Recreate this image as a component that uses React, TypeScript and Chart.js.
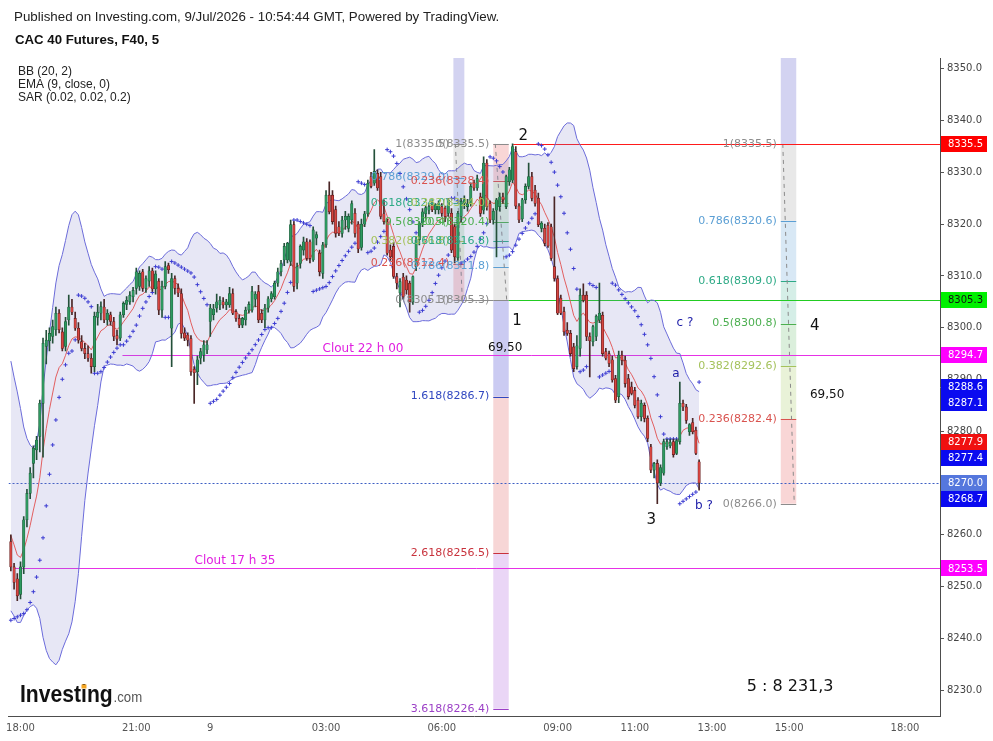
import React, { useEffect, useRef } from "react";
import { Chart, registerables } from "chart.js";
Chart.register(...registerables);

const W = 993;
const H = 741;
const SANS = '"Liberation Sans", Arial, sans-serif';
const DJ = '"DejaVu Sans", Verdana, sans-serif';

// ---- candle data (5 min bars, index 0 = 17:45) ----
const opens = [
  8258.7, 8253.8, 8251.5, 8248.5, 8253.8, 8262.9, 8268.0, 8273.8, 8276.4, 8279.0,
  8285.4, 8296.4, 8297.5, 8298.3, 8299.6, 8302.8, 8299.2, 8296.4, 8301.5, 8304.0,
  8301.8, 8299.9, 8297.3, 8296.0, 8295.0, 8294.1, 8292.5, 8302.0, 8302.8, 8304.0,
  8301.5, 8302.5, 8301.2, 8298.5, 8298.0, 8302.5, 8304.5, 8305.0, 8306.0, 8307.6,
  8308.0, 8310.8, 8307.6, 8309.0, 8311.0, 8307.5, 8309.0, 8303.4, 8308.0, 8312.0,
  8299.9, 8309.5, 8307.6, 8306.6, 8299.0, 8298.6, 8297.9, 8292.0, 8291.5, 8294.1,
  8294.7, 8295.7, 8301.2, 8302.5, 8303.8, 8304.4, 8305.0, 8304.4, 8304.4, 8306.6,
  8303.1, 8301.8, 8300.5, 8301.5, 8303.4, 8303.4, 8305.5, 8307.0, 8302.8, 8301.5,
  8303.8, 8305.6, 8306.0, 8308.6, 8310.8, 8313.1, 8313.1, 8312.8, 8319.9, 8308.6,
  8312.4, 8315.0, 8316.6, 8316.6, 8313.1, 8317.3, 8314.4, 8310.5, 8316.0, 8325.6,
  8325.6, 8322.8, 8319.5, 8318.2, 8320.8, 8319.2, 8320.8, 8322.1, 8320.0, 8315.5,
  8320.0, 8322.0, 8329.2, 8327.9, 8329.8, 8329.2, 8322.0, 8320.5, 8315.0, 8315.7,
  8309.9, 8306.7, 8309.8, 8309.2, 8308.6, 8305.0, 8311.8, 8317.0, 8320.2, 8322.0,
  8322.7, 8323.8, 8322.8, 8322.8, 8323.4, 8323.1, 8322.1, 8322.1, 8319.5, 8313.5,
  8321.5, 8324.0, 8323.4, 8324.0, 8328.0, 8327.0, 8325.3, 8322.7, 8331.8, 8324.0,
  8320.8, 8322.7, 8323.4, 8325.3, 8323.4, 8328.2, 8328.5, 8334.0, 8323.5, 8321.0,
  8324.7, 8327.3, 8329.2, 8326.6, 8325.0, 8319.2, 8319.2, 8319.8, 8319.5, 8311.8,
  8309.5, 8305.7, 8303.1, 8299.5, 8298.9, 8296.3, 8292.5, 8296.0, 8306.3, 8306.3,
  8298.3, 8297.3, 8298.3, 8301.5, 8302.4, 8295.4, 8295.0, 8293.8, 8290.2, 8286.7,
  8294.7, 8293.7, 8290.2, 8288.6, 8287.9, 8286.0, 8282.8, 8285.0, 8282.5, 8277.0,
  8272.5, 8273.8, 8270.0, 8271.9, 8277.0, 8277.2, 8278.0, 8275.7, 8278.0, 8285.4,
  8284.7, 8279.9, 8281.7, 8280.2, 8274.1,
];
const highs = [
  8260.0, 8254.5, 8252.5, 8254.8, 8263.5, 8268.8, 8273.0, 8277.2, 8279.0, 8286.0,
  8298.0, 8299.5, 8300.0, 8301.5, 8304.0, 8303.5, 8300.0, 8302.0, 8306.3, 8305.5,
  8303.0, 8301.0, 8298.5, 8297.0, 8296.5, 8295.0, 8303.0, 8304.5, 8305.0, 8305.5,
  8303.5, 8303.0, 8302.0, 8299.5, 8303.0, 8305.0, 8306.0, 8307.0, 8307.8, 8311.5,
  8311.0, 8311.3, 8310.0, 8311.8, 8311.5, 8311.0, 8309.5, 8309.0, 8312.8, 8312.5,
  8310.5, 8310.0, 8308.5, 8307.5, 8300.0, 8299.0, 8298.5, 8292.5, 8294.5, 8296.0,
  8297.5, 8297.5, 8304.5, 8304.5, 8306.5, 8306.0, 8305.8, 8305.5, 8307.8, 8307.5,
  8303.5, 8302.5, 8302.0, 8304.0, 8305.0, 8308.0, 8307.0, 8308.2, 8303.5, 8304.5,
  8306.0, 8307.0, 8309.0, 8311.5, 8313.0, 8316.3, 8316.5, 8320.8, 8320.5, 8312.5,
  8316.0, 8317.5, 8317.2, 8317.0, 8319.5, 8318.5, 8315.0, 8316.5, 8326.5, 8328.2,
  8326.5, 8323.5, 8320.5, 8321.5, 8322.5, 8322.0, 8324.5, 8323.0, 8320.5, 8321.0,
  8322.5, 8328.5, 8330.0, 8334.4, 8330.5, 8330.0, 8324.7, 8321.0, 8316.0, 8316.5,
  8310.5, 8309.5, 8310.5, 8310.0, 8309.0, 8310.0, 8317.5, 8320.5, 8323.0, 8323.5,
  8323.8, 8324.5, 8324.0, 8324.5, 8324.0, 8323.5, 8325.0, 8323.0, 8320.0, 8322.5,
  8325.0, 8325.5, 8324.8, 8328.0, 8328.5, 8329.5, 8326.0, 8333.0, 8332.5, 8324.5,
  8323.0, 8325.0, 8326.0, 8326.0, 8329.5, 8331.0, 8335.5, 8335.0, 8324.0, 8325.0,
  8327.8, 8331.8, 8330.0, 8327.5, 8326.0, 8320.5, 8320.0, 8320.3, 8320.0, 8325.3,
  8310.0, 8306.3, 8304.0, 8301.0, 8299.5, 8297.0, 8298.5, 8307.5, 8308.5, 8307.0,
  8299.0, 8300.5, 8302.5, 8308.6, 8303.0, 8296.0, 8295.5, 8294.5, 8290.8, 8295.5,
  8295.5, 8294.5, 8291.0, 8289.5, 8288.5, 8286.5, 8286.0, 8285.5, 8283.0, 8277.5,
  8274.0, 8274.5, 8273.5, 8278.5, 8278.5, 8278.5, 8278.5, 8278.5, 8289.5, 8286.0,
  8285.2, 8281.5, 8282.5, 8280.8, 8274.5,
];
const lows = [
  8253.0, 8249.5, 8247.3, 8247.6, 8252.5, 8261.5, 8267.0, 8271.0, 8274.5, 8276.0,
  8275.0, 8293.0, 8295.5, 8297.0, 8298.5, 8299.0, 8295.5, 8295.5, 8300.5, 8302.5,
  8299.5, 8297.0, 8295.5, 8294.0, 8293.5, 8291.2, 8291.5, 8300.5, 8301.5, 8301.0,
  8300.5, 8300.5, 8297.5, 8296.7, 8297.5, 8302.0, 8303.5, 8304.5, 8305.0, 8306.5,
  8307.2, 8307.0, 8306.8, 8308.0, 8307.0, 8306.5, 8302.5, 8302.0, 8307.5, 8310.5,
  8292.5, 8306.5, 8306.0, 8298.0, 8297.5, 8296.5, 8290.8, 8285.4, 8289.0, 8293.0,
  8293.5, 8295.0, 8298.3, 8301.5, 8303.0, 8303.5, 8303.8, 8303.5, 8303.9, 8302.5,
  8301.2, 8300.0, 8300.0, 8300.5, 8302.8, 8303.0, 8304.0, 8301.0, 8301.0, 8300.0,
  8303.0, 8305.0, 8305.5, 8308.0, 8310.0, 8312.0, 8312.5, 8312.0, 8307.0, 8307.5,
  8311.5, 8314.0, 8313.0, 8312.5, 8312.8, 8316.0, 8310.0, 8309.5, 8315.5, 8322.0,
  8320.0, 8317.5, 8317.8, 8317.5, 8319.0, 8318.5, 8320.0, 8317.5, 8314.5, 8315.0,
  8319.5, 8321.5, 8327.0, 8327.5, 8326.5, 8321.0, 8320.0, 8314.0, 8313.0, 8309.5,
  8307.5, 8304.0, 8305.5, 8306.5, 8303.0, 8304.5, 8311.0, 8316.0, 8319.5, 8321.0,
  8322.0, 8322.4, 8322.0, 8322.0, 8321.5, 8320.5, 8321.5, 8314.5, 8312.5, 8313.0,
  8320.5, 8323.0, 8322.5, 8323.5, 8326.5, 8326.5, 8321.5, 8322.0, 8322.7, 8320.3,
  8320.0, 8313.7, 8322.5, 8324.0, 8323.0, 8327.5, 8328.0, 8323.0, 8320.3, 8320.5,
  8324.0, 8326.8, 8324.5, 8323.5, 8319.5, 8318.5, 8315.8, 8315.5, 8313.0, 8309.0,
  8302.5, 8302.5, 8298.5, 8298.5, 8294.5, 8291.5, 8292.0, 8294.5, 8305.0, 8297.5,
  8290.5, 8296.5, 8297.5, 8301.0, 8294.5, 8293.8, 8292.5, 8289.5, 8285.5, 8285.5,
  8292.8, 8288.5, 8286.2, 8287.0, 8284.5, 8282.5, 8282.0, 8281.8, 8278.0, 8272.0,
  8271.0, 8266.0, 8269.5, 8271.5, 8276.5, 8276.8, 8275.0, 8275.5, 8277.5, 8284.0,
  8281.5, 8279.2, 8279.5, 8275.5, 8268.6,
];
const closes = [
  8253.8, 8250.8, 8248.2, 8253.8, 8262.9, 8268.0, 8271.9, 8276.7, 8278.3, 8285.4,
  8297.0, 8297.6, 8298.9, 8300.2, 8302.8, 8299.6, 8296.0, 8301.2, 8304.0, 8303.0,
  8299.9, 8297.6, 8296.0, 8295.0, 8294.1, 8292.5, 8302.2, 8303.0, 8304.1, 8301.5,
  8302.8, 8301.2, 8298.3, 8297.8, 8302.5, 8304.7, 8305.3, 8306.3, 8307.2, 8310.8,
  8310.5, 8307.6, 8309.5, 8311.0, 8307.5, 8310.4, 8303.4, 8308.0, 8311.8, 8311.2,
  8309.5, 8307.6, 8306.7, 8298.9, 8298.0, 8297.6, 8291.5, 8291.3, 8293.8, 8295.4,
  8296.7, 8296.7, 8303.8, 8303.6, 8305.0, 8305.3, 8304.4, 8305.0, 8306.6, 8302.8,
  8301.8, 8300.5, 8301.8, 8303.4, 8304.5, 8307.0, 8306.5, 8301.5, 8301.5, 8303.8,
  8305.6, 8306.6, 8308.6, 8310.8, 8312.4, 8315.7, 8316.3, 8319.9, 8308.0, 8311.8,
  8315.7, 8316.6, 8313.4, 8313.4, 8318.9, 8318.0, 8310.8, 8316.0, 8325.6, 8322.4,
  8320.5, 8318.2, 8318.2, 8320.8, 8321.5, 8321.5, 8324.0, 8318.2, 8315.2, 8320.0,
  8322.0, 8327.9, 8327.3, 8330.2, 8327.0, 8321.5, 8320.5, 8314.4, 8313.7, 8309.9,
  8308.6, 8308.9, 8306.0, 8307.3, 8305.0, 8309.9, 8317.0, 8320.2, 8322.4, 8323.2,
  8323.4, 8322.8, 8323.8, 8324.0, 8322.1, 8321.5, 8324.7, 8315.0, 8313.7, 8322.1,
  8324.4, 8324.7, 8324.0, 8327.3, 8327.0, 8328.8, 8322.1, 8331.8, 8323.4, 8320.8,
  8322.5, 8324.7, 8325.3, 8324.7, 8329.2, 8330.5, 8335.0, 8323.5, 8320.8, 8324.7,
  8327.3, 8329.2, 8325.0, 8324.0, 8319.9, 8320.2, 8316.3, 8315.8, 8313.4, 8309.5,
  8302.8, 8302.8, 8299.2, 8298.9, 8295.0, 8292.1, 8296.5, 8306.3, 8305.3, 8298.3,
  8297.5, 8300.2, 8302.2, 8302.8, 8295.0, 8294.1, 8293.1, 8289.9, 8286.0, 8294.7,
  8293.7, 8289.2, 8286.7, 8287.3, 8285.0, 8282.8, 8285.4, 8282.5, 8278.6, 8272.5,
  8273.8, 8270.0, 8273.0, 8278.0, 8278.0, 8277.9, 8275.5, 8278.2, 8285.4, 8284.7,
  8282.1, 8281.3, 8279.9, 8275.7, 8270.0,
];
// closes before the first visible bar, estimated from the band/EMA shape at the left edge
const priorCloses = [
  8290, 8292, 8289, 8286, 8285, 8280, 8278, 8279, 8273, 8270,
  8265, 8267, 8262, 8259, 8261, 8257, 8254, 8258, 8261, 8259,
];

// ---- axes ----
const xTickIndex = [3, 39, 62, 98, 134, 170, 194, 218, 242, 278];
const xTickLabels = ["18:00", "21:00", "9", "03:00", "06:00", "09:00", "11:00", "13:00", "15:00", "18:00"];
const yTickValues = [8230, 8240, 8250, 8260, 8270, 8280, 8290, 8300, 8310, 8320, 8330, 8340, 8350];
const X_MIN = -0.73;
const X_MAX = 288.9;
const Y_MIN = 8225;
const Y_MAX = 8352.1;

// ---- Fibonacci tools ----
const fibALevels = ["0", "0.236", "0.382", "0.5", "0.618", "0.786", "1"];
const fibAPrices = [8305.3, 8312.4, 8316.8, 8320.4, 8324.0, 8329.0, 8335.5];
const fibBLevels = ["0", "0.236", "0.382", "0.5", "0.618", "0.786", "1", "1.618", "2.618", "3.618"];
const fibBPrices = [8335.5, 8328.4, 8324.0, 8320.4, 8316.8, 8311.8, 8305.3, 8286.7, 8256.5, 8226.4];
const fibCLevels = ["0", "0.236", "0.382", "0.5", "0.618", "0.786", "1"];
const fibCPrices = [8266.0, 8282.4, 8292.6, 8300.8, 8309.0, 8320.6, 8335.5];

// ---- price lines & right-axis markers ----
const lineValues = [8335.5, 8305.3, 8294.7, 8253.5];
const markerValues = [8335.5, 8305.3, 8294.7, 8288.6, 8287.1, 8277.9, 8277.4, 8270.0, 8268.7, 8253.5];
const markerBg = ["#ff0000", "#00f000", "#ff00ff", "#0a0af0", "#0a0af0", "#f01010", "#0a0af0", "#5577dd", "#0a0af0", "#ff00ff"];
const markerFg = ["#ffffff", "#111111", "#ffffff", "#ffffff", "#ffffff", "#ffffff", "#ffffff", "#ffffff", "#ffffff", "#ffffff"];
const lastPrice = 8270.0;

const fibLevelColor: Record<string, string> = {
  "0": "#8c8c8c",
  "0.236": "#d9534f",
  "0.382": "#a5c25c",
  "0.5": "#4caf50",
  "0.618": "#2eaa86",
  "0.786": "#5b9fd4",
  "1": "#8c8c8c",
  "1.618": "#3047c0",
  "2.618": "#c8323c",
  "3.618": "#9b3fc6",
};
const fibZoneFill: Record<string, string> = {
  "0.236": "rgba(230,90,90,0.25)",
  "0.382": "rgba(165,200,90,0.24)",
  "0.5": "rgba(76,175,80,0.2)",
  "0.618": "rgba(46,170,134,0.2)",
  "0.786": "rgba(91,159,212,0.24)",
  "1": "rgba(140,140,140,0.2)",
  "1.618": "rgba(70,70,210,0.28)",
  "2.618": "rgba(225,90,90,0.25)",
  "3.618": "rgba(170,90,220,0.25)",
};

// ---- indicators ----
const allCloses = [...priorCloses, ...closes];
const P = priorCloses.length;
const bbUpper: number[] = [];
const bbLower: number[] = [];
for (let i = 0; i < closes.length; i++) {
  const w = allCloses.slice(P + i - 19, P + i + 1);
  const m = w.reduce((s, v) => s + v, 0) / w.length;
  const sd = Math.sqrt(w.reduce((s, v) => s + (v - m) * (v - m), 0) / w.length);
  bbUpper.push(m + 2 * sd);
  bbLower.push(m - 2 * sd);
}
const emaVals: number[] = [];
{
  let e = allCloses[0];
  for (let k = 1; k < allCloses.length; k++) {
    e = e + (2 / 10) * (allCloses[k] - e);
    if (k >= P) emaVals.push(e);
  }
}
const sarVals: number[] = [];
{
  const hi = highs.map((h, i) => Math.max(h, opens[i], closes[i]));
  const lo = lows.map((l, i) => Math.min(l, opens[i], closes[i]));
  let up = true;
  let sar = 8243.5;
  let ep = hi[0];
  let af = 0.02;
  sarVals.push(sar);
  for (let i = 1; i < closes.length; i++) {
    let nx = sar + af * (ep - sar);
    if (up) {
      nx = Math.min(nx, lo[i - 1], lo[Math.max(0, i - 2)]);
      if (lo[i] < nx) {
        up = false; nx = ep; ep = lo[i]; af = 0.02;
      } else if (hi[i] > ep) {
        ep = hi[i]; af = Math.min(af + 0.02, 0.2);
      }
    } else {
      nx = Math.max(nx, hi[i - 1], hi[Math.max(0, i - 2)]);
      if (hi[i] > nx) {
        up = true; nx = ep; ep = hi[i]; af = 0.02;
      } else if (lo[i] < ep) {
        ep = lo[i]; af = Math.min(af + 0.02, 0.2);
      }
    }
    sar = nx;
    sarVals.push(sar);
  }
}

// ---- annotation layout (data coordinates: bar index, price) ----
const fibTools = [
  { i0: 137.6, i1: 141.0, levels: fibALevels, prices: fibAPrices, cap: true },
  { i0: 150.0, i1: 154.8, levels: fibBLevels, prices: fibBPrices, cap: false },
  { i0: 239.4, i1: 244.2, levels: fibCLevels, prices: fibCPrices, cap: true },
];
const hLines = [
  { p: lineValues[0], from: 156.2, color: "#ff1a1a" },
  { p: lineValues[1], from: 154.8, color: "#22cc22" },
  { p: lineValues[2], from: 34.7, color: "#e632e6" },
  { p: lineValues[3], from: 0.8, color: "#e632e6" },
];
const texts = [
  { t: "1", i: 157.4, p: 8301.3, size: 15, color: "#111", align: "center" },
  { t: "2", i: 159.3, p: 8337.0, size: 15, color: "#111", align: "center" },
  { t: "3", i: 199.1, p: 8262.8, size: 15, color: "#111", align: "center" },
  { t: "4", i: 250.0, p: 8300.3, size: 15, color: "#111", align: "center" },
  { t: "69,50", i: 153.7, p: 8296.1, size: 12, color: "#111", align: "center" },
  { t: "69,50", i: 253.8, p: 8287.0, size: 12, color: "#111", align: "center" },
  { t: "a", i: 206.8, p: 8291.1, size: 12, color: "#1c1ca8", align: "center" },
  { t: "c ?", i: 209.6, p: 8300.9, size: 12, color: "#1c1ca8", align: "center" },
  { t: "b ?", i: 215.5, p: 8265.6, size: 12, color: "#1c1ca8", align: "center" },
  { t: "5 : 8 231,3", i: 242.3, p: 8230.6, size: 16, color: "#111", align: "center" },
  { t: "Clout 22 h 00", i: 96.9, p: 8296.0, size: 12, color: "#e020e0", align: "left" },
  { t: "Clout 17 h 35", i: 57.1, p: 8254.9, size: 12, color: "#e020e0", align: "left" },
];

function fitFont(ctx: CanvasRenderingContext2D, text: string, weight: string, base: number, family: string, target: number) {
  ctx.font = `${weight} ${base}px ${family}`;
  const w = ctx.measureText(text).width;
  let s = (base * target) / w;
  s = Math.max(base * 0.85, Math.min(base * 1.15, s));
  ctx.font = `${weight} ${s}px ${family}`;
}

const overlay = {
  id: "overlay",
  beforeDatasetsDraw(chart: any) {
    const { ctx, chartArea: a, scales } = chart;
    const xs = scales.x;
    const ys = scales.y;
    const X = (i: number) => xs.getPixelForValue(i);
    const Y = (p: number) => ys.getPixelForValue(p);
    ctx.save();
    ctx.beginPath();
    ctx.rect(a.left, a.top, a.right - a.left, a.bottom - a.top);
    ctx.clip();

    // fib columns
    for (const f of fibTools) {
      const x0 = X(f.i0);
      const x1 = X(f.i1);
      if (f.cap) {
        ctx.fillStyle = "rgba(110,110,210,0.3)";
        ctx.fillRect(x0, a.top, x1 - x0, Y(8335.5) - a.top);
      }
      for (let k = 1; k < f.levels.length; k++) {
        const ya = Y(f.prices[k - 1]);
        const yb = Y(f.prices[k]);
        ctx.fillStyle = fibZoneFill[f.levels[k]];
        ctx.fillRect(x0, Math.min(ya, yb), x1 - x0, Math.abs(yb - ya));
      }
      for (let k = 0; k < f.levels.length; k++) {
        const yy = Math.round(Y(f.prices[k])) + 0.5;
        ctx.strokeStyle = fibLevelColor[f.levels[k]];
        ctx.lineWidth = 1;
        ctx.beginPath();
        ctx.moveTo(x0, yy);
        ctx.lineTo(x1, yy);
        ctx.stroke();
      }
      const i0 = f.levels.indexOf("0");
      const i1 = f.levels.indexOf("1");
      const pTop = Math.max(f.prices[i0], f.prices[i1]);
      const pBot = Math.min(f.prices[i0], f.prices[i1]);
      ctx.strokeStyle = "#8a8a8a";
      ctx.setLineDash([4, 4]);
      ctx.beginPath();
      ctx.moveTo(x0 + 2, Y(pTop));
      ctx.lineTo(x1 - 2, Y(pBot));
      ctx.stroke();
      ctx.setLineDash([]);
    }

    // grey connector of the 0/1 level between the two left tools
    ctx.strokeStyle = "#8c8c8c";
    ctx.beginPath();
    ctx.moveTo(X(fibTools[0].i1), Math.round(Y(8305.3)) + 0.5);
    ctx.lineTo(X(fibTools[1].i0), Math.round(Y(8305.3)) + 0.5);
    ctx.stroke();

    // horizontal price lines
    for (const l of hLines) {
      const yy = Math.round(Y(l.p)) + 0.5;
      ctx.strokeStyle = l.color;
      ctx.lineWidth = 1;
      ctx.beginPath();
      ctx.moveTo(X(l.from), yy);
      ctx.lineTo(a.right, yy);
      ctx.stroke();
    }
    // last price dotted line
    {
      const yy = Math.round(Y(lastPrice)) + 0.5;
      ctx.strokeStyle = "#3d5fc4";
      ctx.setLineDash([2, 2]);
      ctx.beginPath();
      ctx.moveTo(a.left, yy);
      ctx.lineTo(a.right, yy);
      ctx.stroke();
      ctx.setLineDash([]);
    }
    ctx.restore();
  },
  afterDraw(chart: any) {
    const { ctx, chartArea: a, scales } = chart;
    const xs = scales.x;
    const ys = scales.y;
    const X = (i: number) => xs.getPixelForValue(i);
    const Y = (p: number) => ys.getPixelForValue(p);
    ctx.save();

    // fib labels
    ctx.textBaseline = "middle";
    ctx.textAlign = "right";
    ctx.font = `11px ${DJ}`;
    for (const f of fibTools) {
      const x0 = X(f.i0) - 4;
      for (let k = 0; k < f.levels.length; k++) {
        ctx.fillStyle = fibLevelColor[f.levels[k]];
        ctx.fillText(`${f.levels[k]}(${f.prices[k].toFixed(1)})`, x0, Y(f.prices[k]));
      }
    }

    // free texts
    for (const t of texts) {
      ctx.font = `${t.size}px ${DJ}`;
      ctx.fillStyle = t.color;
      ctx.textAlign = t.align as CanvasTextAlign;
      ctx.textBaseline = "middle";
      ctx.fillText(t.t, X(t.i), Y(t.p));
    }

    // right axis markers
    const ms = markerValues
      .map((v, k) => ({ v, bg: markerBg[k], fg: markerFg[k], y: Y(v) }))
      .sort((m1, m2) => m1.y - m2.y);
    let prev = -1e9;
    for (const m of ms) {
      if (m.y < prev + 16) m.y = prev + 16;
      prev = m.y;
    }
    ctx.textAlign = "left";
    ctx.textBaseline = "middle";
    ctx.font = `10px ${DJ}`;
    for (const m of ms) {
      ctx.fillStyle = m.bg;
      ctx.fillRect(a.right + 1, Math.round(m.y - 8), 46, 16);
      ctx.fillStyle = m.fg;
      ctx.fillText(m.v.toFixed(1), a.right + 8, m.y + 0.5);
    }

    // header
    ctx.fillStyle = "#222";
    ctx.textAlign = "left";
    ctx.textBaseline = "middle";
    const hdr = "Published on Investing.com, 9/Jul/2026 - 10:54:44 GMT, Powered by TradingView.";
    fitFont(ctx, hdr, "normal", 13, SANS, 486);
    ctx.fillText(hdr, 14, 17);
    const ttl = "CAC 40 Futures, F40, 5";
    fitFont(ctx, ttl, "bold", 13, SANS, 144);
    ctx.fillStyle = "#111";
    ctx.fillText(ttl, 15, 40);

    // legend
    ctx.fillStyle = "#222";
    ctx.font = `12px ${SANS}`;
    const leg = ["BB (20, 2)", "EMA (9, close, 0)", "SAR (0.02, 0.02, 0.2)"];
    leg.forEach((s, k) => ctx.fillText(s, 18, 72 + k * 13));

    // logo
    ctx.save();
    ctx.translate(20, 702);
    ctx.scale(0.88, 1);
    ctx.textBaseline = "alphabetic";
    ctx.font = `bold 24px ${SANS}`;
    ctx.fillStyle = "#111";
    ctx.fillText("Investing", 0, 0);
    const wInv = ctx.measureText("Investing").width;
    const wPre = ctx.measureText("Invest").width;
    const wI = ctx.measureText("i").width;
    ctx.fillStyle = "#f5a623";
    ctx.fillRect(wPre + 0.5, -17.5, wI - 1, 4);
    ctx.font = `15px ${SANS}`;
    ctx.fillStyle = "#555";
    ctx.fillText(".com", wInv + 1, 0);
    ctx.restore();

    ctx.restore();
  },
};

export default function App() {
  const ref = useRef<HTMLCanvasElement | null>(null);
  useEffect(() => {
    if (!ref.current) return;
    const idx = closes.map((_, i) => i);
    const up = (i: number) => closes[i] >= opens[i];
    const chart = new Chart(ref.current, {
      type: "bar",
      data: {
        datasets: [
          {
            type: "line",
            label: "BB upper",
            data: idx.map((i) => ({ x: i, y: bbUpper[i] })),
            borderColor: "#6b6bdb",
            borderWidth: 1,
            pointRadius: 0,
            fill: false,
            order: 10,
          } as any,
          {
            type: "line",
            label: "BB lower",
            data: idx.map((i) => ({ x: i, y: bbLower[i] })),
            borderColor: "#6b6bdb",
            borderWidth: 1,
            pointRadius: 0,
            fill: "-1",
            backgroundColor: "rgba(120,120,200,0.18)",
            order: 9,
          } as any,
          {
            type: "line",
            label: "EMA",
            data: idx.map((i) => ({ x: i, y: emaVals[i] })),
            borderColor: "rgba(225,80,80,0.9)",
            borderWidth: 1,
            pointRadius: 0,
            fill: false,
            order: 8,
          } as any,
          {
            type: "line",
            label: "SAR",
            data: idx.map((i) => ({ x: i, y: sarVals[i] })),
            showLine: false,
            pointStyle: "cross",
            pointRadius: 2,
            pointBorderWidth: 1,
            pointBorderColor: "#3c3cd2",
            pointBackgroundColor: "#3c3cd2",
            order: 7,
          } as any,
          {
            type: "bar",
            label: "wick",
            data: idx.map((i) => ({
              x: i,
              y: [Math.min(lows[i], opens[i], closes[i]), Math.max(highs[i], opens[i], closes[i])],
            })),
            backgroundColor: idx.map((i) => (up(i) ? "#24503a" : "#4a2626")),
            barThickness: 1,
            grouped: false,
            order: 6,
          } as any,
          {
            type: "bar",
            label: "body",
            data: idx.map((i) => ({ x: i, y: [opens[i], closes[i]] })),
            backgroundColor: idx.map((i) => (up(i) ? "#2e9960" : "#d64541")),
            borderColor: idx.map((i) => (up(i) ? "#1d5c3a" : "#5c1a1a")),
            borderWidth: 0.6,
            borderSkipped: false,
            barThickness: 2.5,
            grouped: false,
            order: 5,
          } as any,
        ],
      },
      options: {
        responsive: false,
        animation: false,
        events: [],
        layout: { padding: { left: 8, top: 58, right: 0, bottom: 0 } },
        plugins: { legend: { display: false }, tooltip: { enabled: false } },
        scales: {
          x: {
            type: "linear",
            min: X_MIN,
            max: X_MAX,
            offset: false,
            position: "bottom",
            grid: { display: true, drawOnChartArea: false, drawTicks: false, color: "#555" },
            border: { display: true, color: "#4d4d4d", width: 1 },
            ticks: {
              autoSkip: false,
              maxRotation: 0,
              minRotation: 0,
              padding: 6,
              color: "#555",
              font: { family: '"DejaVu Sans"', size: 10 },
              callback: (v: any) => {
                const k = xTickIndex.indexOf(Number(v));
                return k >= 0 ? xTickLabels[k] : "";
              },
            },
            afterBuildTicks: (s: any) => {
              s.ticks = xTickIndex.map((v) => ({ value: v }));
            },
            afterFit: (s: any) => {
              s.height = 25;
            },
          },
          y: {
            type: "linear",
            position: "right",
            min: Y_MIN,
            max: Y_MAX,
            grid: { display: true, drawOnChartArea: false, drawTicks: true, tickLength: 4, color: "#555" },
            border: { display: true, color: "#4d4d4d", width: 1 },
            ticks: {
              autoSkip: false,
              padding: 3,
              color: "#444",
              font: { family: '"DejaVu Sans"', size: 10 },
              callback: (v: any) => Number(v).toFixed(1),
            },
            afterBuildTicks: (s: any) => {
              s.ticks = yTickValues.map((v) => ({ value: v }));
            },
            afterFit: (s: any) => {
              s.width = 53;
            },
          },
        },
      } as any,
      plugins: [overlay as any],
    });
    return () => chart.destroy();
  }, []);
  return (
    <div style={{ position: "absolute", left: 0, top: 0, width: W, height: H, background: "#fff" }}>
      <canvas ref={ref} width={W} height={H} style={{ display: "block", width: W, height: H }} />
    </div>
  );
}
